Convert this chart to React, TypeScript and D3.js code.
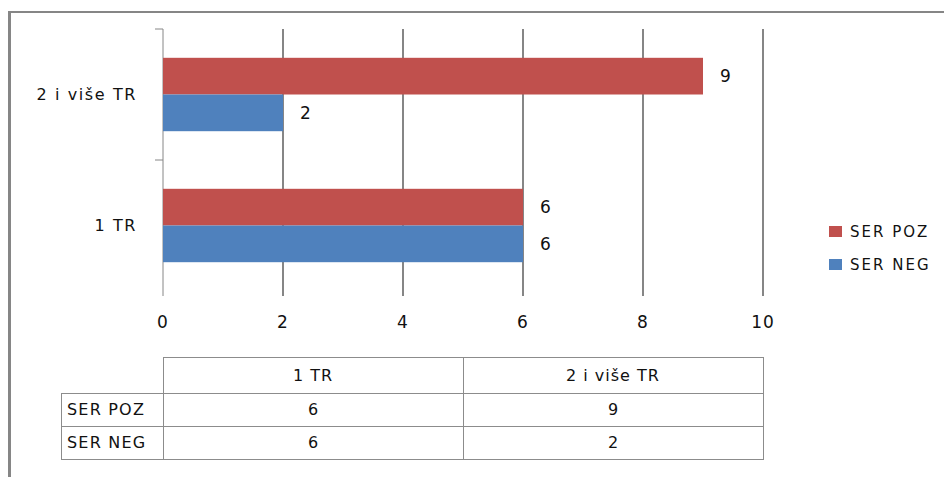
import React from "react";
import * as d3 from "d3";

const categories = ["1 TR", "2 i više TR"];
const seriesNames = ["SER POZ", "SER NEG"];
const serPoz = [6, 9];
const serNeg = [6, 2];
const xTicks = [0, 2, 4, 6, 8, 10];
const seriesColors = ["#C0504D", "#4F81BD"];

const W = 944;
const H = 477;
const FONT = "'DejaVu Sans', Verdana, sans-serif";
const GRID = "#868686";

export default function App() {
  const x = d3.scaleLinear().domain([0, 10]).range([163, 763]);
  const yCats = [...categories].reverse();
  const y = d3.scaleBand<string>().domain(yCats).range([29, 291]).padding(0);
  const sub = d3
    .scaleBand<string>()
    .domain(seriesNames)
    .range([0, y.bandwidth()])
    .paddingInner(0)
    .paddingOuter(0.785);
  const seriesValues = [serPoz, serNeg];

  const bars: { cat: string; s: string; v: number; color: string }[] = [];
  categories.forEach((c, ci) => {
    seriesNames.forEach((s, si) => {
      bars.push({ cat: c, s, v: seriesValues[si][ci], color: seriesColors[si] });
    });
  });

  const tableCol = d3.scaleBand<string>().domain(categories).range([x(0), x(10)]);
  const tableLeft = 61;
  const rowTops = [357, 393, 426, 459];

  return (
    <svg
      width={W}
      height={H}
      style={{ position: "absolute", left: 0, top: 0, background: "#fff" }}
      fontFamily={FONT}
    >
      <rect x={0} y={0} width={W} height={H} fill="#fff" />
      {/* outer frame */}
      <line x1={9} y1={12} x2={W} y2={12} stroke={GRID} strokeWidth={2} />
      <line x1={9.5} y1={11} x2={9.5} y2={H} stroke={GRID} strokeWidth={3} />

      {/* gridlines */}
      {xTicks.map((t) =>
        t === 0 ? null : (
          <line key={"g" + t} x1={x(t)} x2={x(t)} y1={29} y2={296} stroke={GRID} strokeWidth={2} />
        )
      )}
      {/* category axis */}
      <line x1={x(0)} x2={x(0)} y1={29} y2={296} stroke={GRID} strokeWidth={1} />
      {[29, 160].map((t, i) => (
        <line key={"ct" + i} x1={155} x2={x(0)} y1={t} y2={t} stroke={GRID} strokeWidth={1} />
      ))}

      {/* bars */}
      {bars.map((b, i) => (
        <rect
          key={"b" + i}
          x={x(0)}
          y={(y(b.cat) as number) + (sub(b.s) as number)}
          width={x(b.v) - x(0)}
          height={sub.bandwidth()}
          fill={b.color}
        />
      ))}
      {/* value labels */}
      {bars.map((b, i) => (
        <text
          key={"v" + i}
          x={x(b.v) + 17}
          y={(y(b.cat) as number) + (sub(b.s) as number) + sub.bandwidth() / 2}
          dominantBaseline="central"
          fontSize={17}
          fill="#111"
        >
          {b.v}
        </text>
      ))}

      {/* category labels */}
      {categories.map((c) => (
        <text
          key={"c" + c}
          x={137}
          y={(y(c) as number) + y.bandwidth() / 2}
          textAnchor="end"
          dominantBaseline="central"
          fontSize={16}
          letterSpacing={1.6}
          fill="#111"
        >
          {c}
        </text>
      ))}

      {/* x tick labels */}
      {xTicks.map((t) => (
        <text
          key={"xt" + t}
          x={x(t)}
          y={322}
          textAnchor="middle"
          dominantBaseline="central"
          fontSize={17}
          letterSpacing={1}
          fill="#111"
        >
          {t}
        </text>
      ))}

      {/* legend */}
      {seriesNames.map((s, i) => (
        <g key={"l" + s} transform={`translate(829, ${226 + i * 33})`}>
          <rect x={0} y={0} width={13} height={11} fill={seriesColors[i]} />
          <text x={21} y={5.5} dominantBaseline="central" fontSize={15} letterSpacing={2} fill="#111">
            {s}
          </text>
        </g>
      ))}

      {/* data table */}
      <g stroke="#8c8c8c" strokeWidth={1} fill="none">
        <rect x={x(0) + 0.5} y={rowTops[0] + 0.5} width={x(10) - x(0)} height={rowTops[1] - rowTops[0]} />
        <rect x={tableLeft + 0.5} y={rowTops[1] + 0.5} width={x(10) - tableLeft} height={rowTops[3] - rowTops[1]} />
        <line x1={tableLeft} x2={x(10) + 0.5} y1={rowTops[2] + 0.5} y2={rowTops[2] + 0.5} />
        <line x1={x(0) + 0.5} x2={x(0) + 0.5} y1={rowTops[1]} y2={rowTops[3]} />
        {categories.slice(1).map((c) => (
          <line
            key={"tc" + c}
            x1={(tableCol(c) as number) + 0.5}
            x2={(tableCol(c) as number) + 0.5}
            y1={rowTops[0]}
            y2={rowTops[3]}
          />
        ))}
      </g>
      {categories.map((c) => (
        <text
          key={"th" + c}
          x={(tableCol(c) as number) + tableCol.bandwidth() / 2}
          y={(rowTops[0] + rowTops[1]) / 2}
          textAnchor="middle"
          dominantBaseline="central"
          fontSize={16}
          letterSpacing={1}
          fill="#111"
        >
          {c}
        </text>
      ))}
      {seriesNames.map((s, si) => (
        <g key={"tr" + s}>
          <text
            x={67}
            y={(rowTops[si + 1] + rowTops[si + 2]) / 2}
            dominantBaseline="central"
            fontSize={16}
            letterSpacing={1.2}
            fill="#111"
          >
            {s}
          </text>
          {categories.map((c, ci) => (
            <text
              key={"td" + c}
              x={(tableCol(c) as number) + tableCol.bandwidth() / 2}
              y={(rowTops[si + 1] + rowTops[si + 2]) / 2}
              textAnchor="middle"
              dominantBaseline="central"
              fontSize={16}
              fill="#111"
            >
              {seriesValues[si][ci]}
            </text>
          ))}
        </g>
      ))}
    </svg>
  );
}
